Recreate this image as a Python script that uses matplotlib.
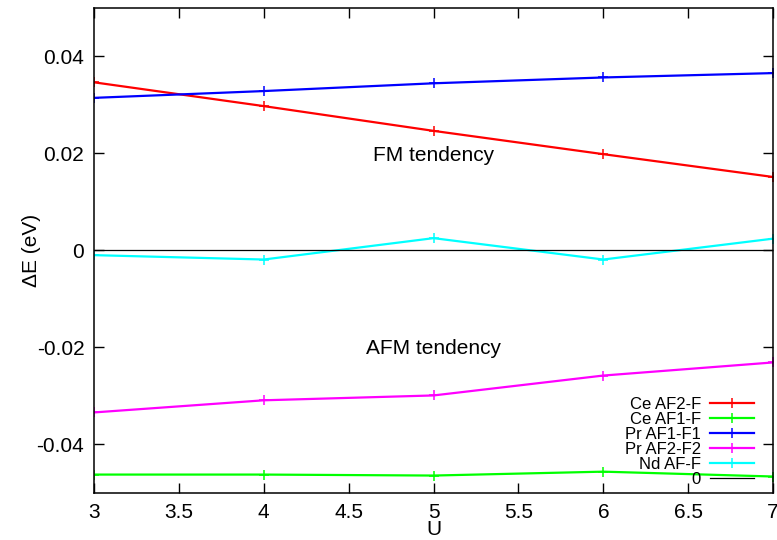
import matplotlib
matplotlib.use("Agg")
import matplotlib.pyplot as plt

plt.rcParams['font.family'] = ['Liberation Sans', 'DejaVu Sans']

U = [3, 4, 5, 6, 7]
ce_af2_f = [0.0346, 0.0297, 0.0246, 0.0198, 0.0151]
ce_af1_f = [-0.0462, -0.0462, -0.0464, -0.0456, -0.0466]
pr_af1_f1 = [0.0314, 0.0328, 0.0344, 0.0356, 0.0365]
pr_af2_f2 = [-0.0334, -0.0309, -0.0299, -0.0258, -0.0231]
nd_af_f = [-0.0010, -0.0019, 0.0025, -0.0019, 0.0024]

series = [
    ("Ce AF2-F", ce_af2_f, "#ff0000"),
    ("Ce AF1-F", ce_af1_f, "#00ff00"),
    ("Pr AF1-F1", pr_af1_f1, "#0000ff"),
    ("Pr AF2-F2", pr_af2_f2, "#ff00ff"),
    ("Nd AF-F", nd_af_f, "#00ffff"),
]

fig = plt.figure(figsize=(7.77, 5.40), dpi=100)
ax = fig.add_axes([0.121, 0.087, 0.874, 0.899])

for name, vals, col in series:
    ax.plot(U, vals, color=col, lw=1.6, marker='+', ms=6.5, mew=1.1, label=name)
ax.axhline(0, color='black', lw=0.9, label='0')

ax.set_xlim(3, 7)
ax.set_ylim(-0.05, 0.05)
ax.set_xticks([3, 3.5, 4, 4.5, 5, 5.5, 6, 6.5, 7])
ax.set_xticklabels(['3', '3.5', '4', '4.5', '5', '5.5', '6', '6.5', '7'])
ax.set_yticks([-0.04, -0.02, 0, 0.02, 0.04])
ax.set_yticklabels(['-0.04', '-0.02', '0', '0.02', '0.04'])
ax.tick_params(direction='in', length=7, width=1, top=True, right=True,
               labelsize=15, pad=7)
for sp in ax.spines.values():
    sp.set_linewidth(1.1)

ax.set_xlabel("U", fontsize=15, labelpad=-1)
ax.set_ylabel("ΔE (eV)", fontsize=15, labelpad=-3)

ax.text(5.0, 0.0196, "FM tendency", fontsize=15, ha='center', va='center')
ax.text(5.0, -0.0202, "AFM tendency", fontsize=15, ha='center', va='center')

ax.legend(loc='lower right', frameon=False, markerfirst=False, fontsize=12,
          labelspacing=0.0, handlelength=2.65, handletextpad=0.55,
          borderaxespad=0.0, borderpad=0.0, bbox_to_anchor=(0.972, 0.012))

fig.savefig("out.png", dpi=100)
